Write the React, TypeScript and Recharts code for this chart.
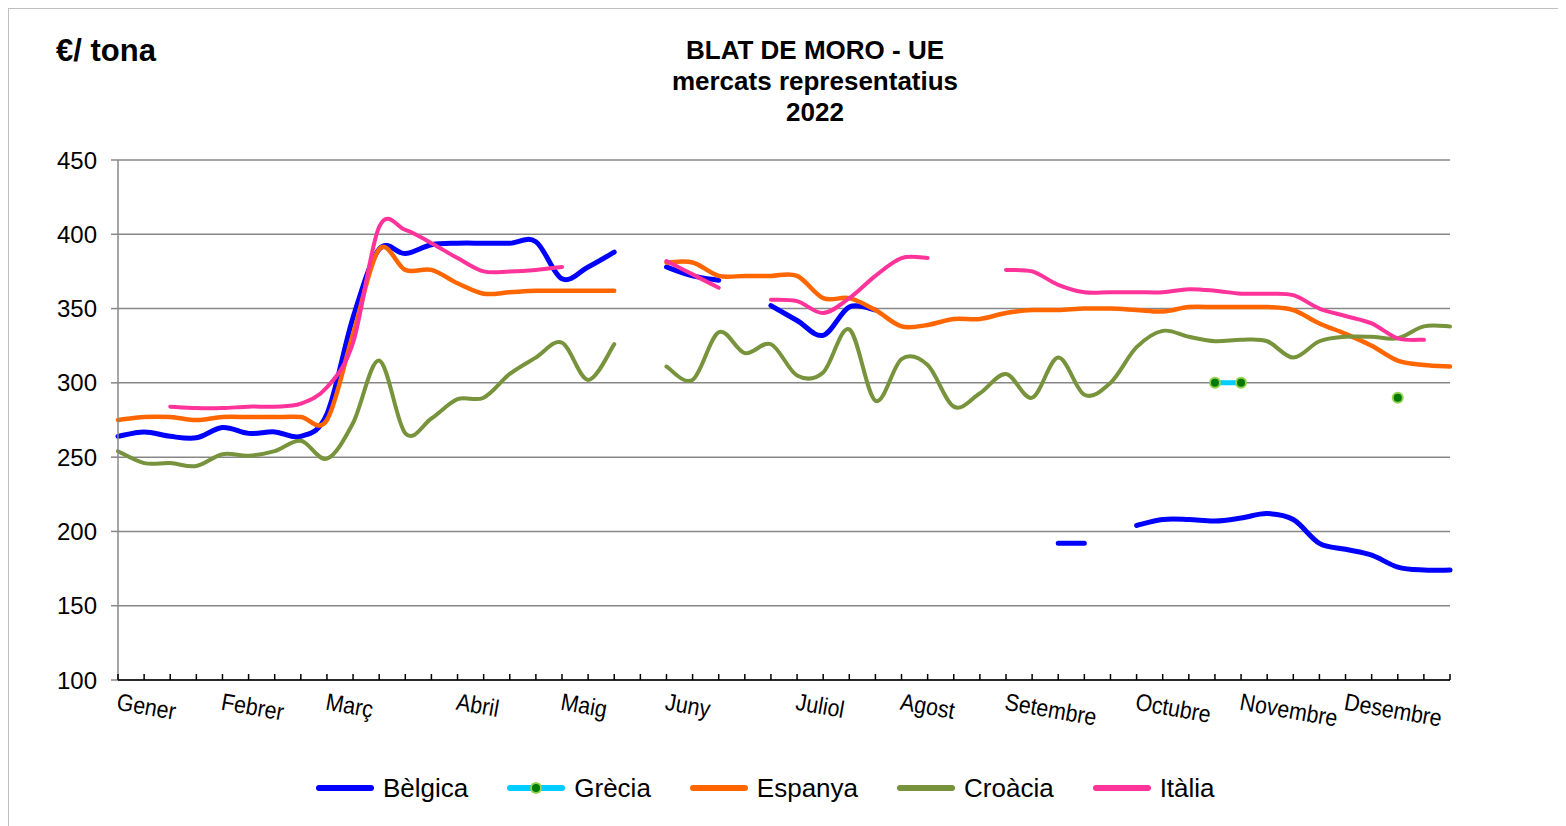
import React from "react";
import { LineChart, Line, XAxis, YAxis, CartesianGrid, Legend } from "recharts";

const weeks = [
  1, 2, 3, 4, 5, 6, 7, 8, 9, 10, 11, 12, 13, 14, 15, 16, 17, 18, 19, 20, 21, 22, 23, 24, 25, 26,
  27, 28, 29, 30, 31, 32, 33, 34, 35, 36, 37, 38, 39, 40, 41, 42, 43, 44, 45, 46, 47, 48, 49, 50, 51, 52,
];
const monthWeeks = [1, 5, 9, 14, 18, 22, 27, 31, 35, 40, 44, 48];
const monthNames = [
  "Gener", "Febrer", "Març", "Abril", "Maig", "Juny",
  "Juliol", "Agost", "Setembre", "Octubre", "Novembre", "Desembre",
];
const yTicks = [100, 150, 200, 250, 300, 350, 400, 450];

const belgica = [
  264, 267, 264, 263, 270, 266, 267, 264, 279, 344, 390, 387, 393, 394, 394, 394, 395, 370, 378, 388,
  null, 378, 372, 369, null, 352, 342, 332, 351, 349, null, null, null, null, null, null, 192, 192, null,
  204, 208, 208, 207, 209, 212, 208, 192, 188, 184, 176, 174, 174,
];
const grecia = [
  null, null, null, null, null, null, null, null, null, null, null, null, null, null, null, null, null,
  null, null, null, null, null, null, null, null, null, null, null, null, null, null, null, null, null,
  null, null, null, null, null, null, null, null, 300, 300, null, null, null, null, null, 290, null, null,
];
const espanya = [
  275, 277, 277, 275, 277, 277, 277, 277, 275, 333, 390, 376, 376, 367, 360, 361, 362, 362, 362, 362,
  null, 381, 381, 372, 372, 372, 372, 357, 357, 349, 338, 339, 343, 343, 347, 349, 349, 350, 350,
  349, 348, 351, 351, 351, 351, 349, 340, 333, 325, 315, 312, 311,
];
const croacia = [
  254, 246, 246, 244, 252, 251, 254, 261, 249, 273, 315, 266, 276, 289, 290, 306, 317, 327, 302, 326,
  null, 311, 302, 334, 320, 326, 305, 307, 336, 288, 316, 312, 284, 293, 306, 290, 317, 292, 300,
  324, 335, 331, 328, 329, 328, 317, 328, 331, 331, 330, 338, 338,
];
const italia = [
  null, null, 284, 283, 283, 284, 284, 286, 297, 327, 405, 403, 394, 384, 375, 375, 376, 378, null, null,
  null, 382, 373, 364, null, 356, 355, 347, 357, 372, 384, 384, null, null, 376, 375, 366, 361, 361,
  361, 361, 363, 362, 360, 360, 359, 350, 345, 340, 330, 329, null,
];

const series = [
  { key: "belgica", name: "Bèlgica", color: "#0000ff", width: 5, dots: false },
  { key: "grecia", name: "Grècia", color: "#00ccff", width: 5, dots: true },
  { key: "espanya", name: "Espanya", color: "#ff6600", width: 4.5, dots: false },
  { key: "croacia", name: "Croàcia", color: "#77933c", width: 4, dots: false },
  { key: "italia", name: "Itàlia", color: "#ff3399", width: 4, dots: false },
];

const data = weeks.map((week, i) => ({
  week,
  belgica: belgica[i],
  grecia: grecia[i],
  espanya: espanya[i],
  croacia: croacia[i],
  italia: italia[i],
}));

// smooth line like the spreadsheet one (catmull-rom through the points)
const smoothCurve = (context: any) => {
  let pts: number[][] = [];
  return {
    areaStart() {},
    areaEnd() {},
    lineStart() {
      pts = [];
    },
    point(x: number, y: number) {
      pts.push([+x, +y]);
    },
    lineEnd() {
      const n = pts.length;
      if (!n) return;
      context.moveTo(pts[0][0], pts[0][1]);
      for (let i = 0; i < n - 1; i++) {
        const p0 = pts[Math.max(i - 1, 0)];
        const p1 = pts[i];
        const p2 = pts[i + 1];
        const p3 = pts[Math.min(i + 2, n - 1)];
        context.bezierCurveTo(
          p1[0] + (p2[0] - p0[0]) / 6,
          p1[1] + (p2[1] - p0[1]) / 6,
          p2[0] - (p3[0] - p1[0]) / 6,
          p2[1] - (p3[1] - p1[1]) / 6,
          p2[0],
          p2[1]
        );
      }
    },
  };
};

const MonthTick = (props: any) => {
  const { x, y, payload } = props;
  const idx = monthWeeks.indexOf(payload.value);
  return (
    <g>
      <line x1={x} y1={y} x2={x} y2={y - 6} stroke="#000" strokeWidth={1.5} />
      {idx >= 0 && (
        <text
          transform={`translate(${x + 3},${y}) rotate(10) scale(0.89,1)`}
          x={0}
          y={0}
          dy={30}
          fontSize={24}
          fill="#000"
        >
          {monthNames[idx]}
        </text>
      )}
    </g>
  );
};

const LegendContent = () => (
  <div style={{ display: "flex", alignItems: "center", height: 46, whiteSpace: "nowrap" }}>
    {series.map((s) => (
      <div key={s.key} style={{ display: "flex", alignItems: "center", marginRight: 39 }}>
        <svg width={58} height={14} style={{ marginRight: 9 }}>
          <line x1={3} y1={7} x2={55} y2={7} stroke={s.color} strokeWidth={6} strokeLinecap="round" />
          {s.dots && <circle cx={29} cy={7} r={5} fill="#007a00" stroke="#92d050" strokeWidth={2} />}
        </svg>
        <span style={{ fontSize: 26, color: "#000" }}>{s.name}</span>
      </div>
    ))}
  </div>
);

export default function App() {
  return (
    <div
      style={{
        position: "relative",
        width: 1549,
        height: 828,
        border: "1px solid #bfbfbf",
        fontFamily: "'Liberation Sans', Arial, sans-serif",
        background: "#fff",
      }}
    >
      <div
        style={{
          position: "absolute",
          left: 47,
          top: 26,
          fontSize: 31,
          fontWeight: "bold",
          lineHeight: 1,
        }}
      >
        €/ tona
      </div>
      <div
        style={{
          position: "absolute",
          left: 506,
          top: 26,
          width: 600,
          textAlign: "center",
          fontSize: 26,
          fontWeight: "bold",
          lineHeight: "31px",
        }}
      >
        <div>BLAT DE MORO - UE</div>
        <div>mercats representatius</div>
        <div>2022</div>
      </div>
      <LineChart
        width={1549}
        height={820}
        data={data}
        margin={{ top: 151, right: 108, left: 9, bottom: 89 }}
      >
        <CartesianGrid vertical={false} stroke="#878787" strokeWidth={1.5} />
        <XAxis
          dataKey="week"
          interval={0}
          tickLine={false}
          tickSize={0}
          tickMargin={0}
          height={60}
          stroke="#000"
          strokeWidth={1.5}
          tick={<MonthTick />}
        />
        <YAxis
          domain={[100, 450]}
          ticks={yTicks}
          width={100}
          tickSize={7}
          tickMargin={14}
          stroke="#878787"
          strokeWidth={1.5}
          tick={{ fontSize: 24, fill: "#000" }}
          interval={0}
        />
        <Legend
          layout="horizontal"
          verticalAlign="middle"
          align="center"
          wrapperStyle={{ top: 756, left: 307, width: 1100 }}
          content={<LegendContent />}
        />
        {series.map((s) => (
          <Line
            key={s.key}
            dataKey={s.key}
            name={s.name}
            type={smoothCurve as any}
            stroke={s.color}
            strokeWidth={s.width}
            strokeLinecap="round"
            strokeLinejoin="round"
            dot={s.dots ? { r: 5, fill: "#007a00", stroke: "#92d050", strokeWidth: 2 } : false}
            activeDot={false}
            isAnimationActive={false}
          />
        ))}
      </LineChart>
    </div>
  );
}
